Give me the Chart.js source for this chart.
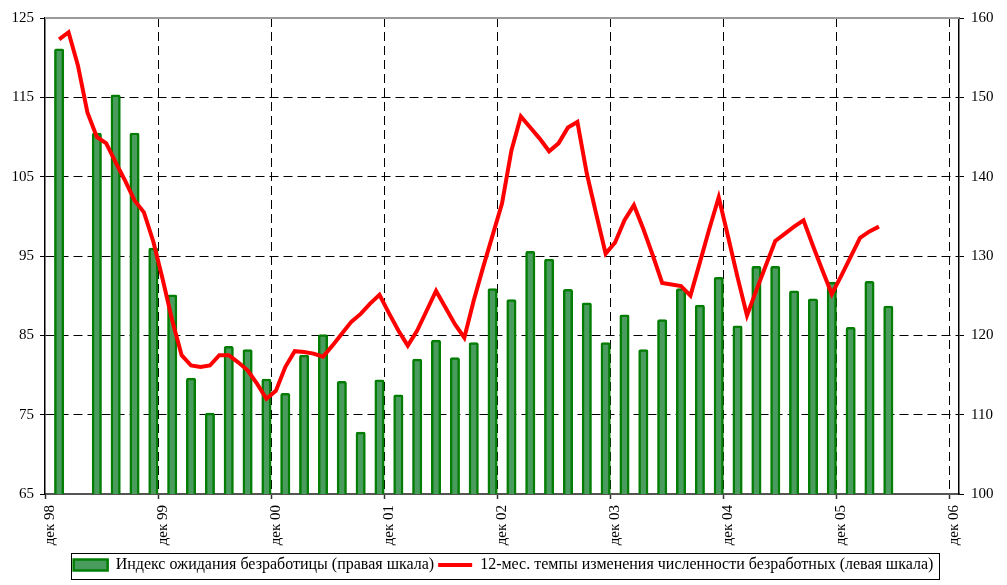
<!DOCTYPE html>
<html><head><meta charset="utf-8">
<script src="https://cdn.jsdelivr.net/npm/chart.js@4.4.1/dist/chart.umd.min.js"></script>
<style>html,body{margin:0;padding:0;background:#fff}#wrap{width:1007px;height:585px;position:relative}</style>
</head><body><div id="wrap"><canvas id="c"></canvas></div>
<script>
const categories = [
 'дек 98',
 'янв 99','фев 99','мар 99','апр 99','май 99','июн 99','июл 99','авг 99','сен 99','окт 99','ноя 99','дек 99',
 'янв 00','фев 00','мар 00','апр 00','май 00','июн 00','июл 00','авг 00','сен 00','окт 00','ноя 00','дек 00',
 'янв 01','фев 01','мар 01','апр 01','май 01','июн 01','июл 01','авг 01','сен 01','окт 01','ноя 01','дек 01',
 'янв 02','фев 02','мар 02','апр 02','май 02','июн 02','июл 02','авг 02','сен 02','окт 02','ноя 02','дек 02',
 'янв 03','фев 03','мар 03','апр 03','май 03','июн 03','июл 03','авг 03','сен 03','окт 03','ноя 03','дек 03',
 'янв 04','фев 04','мар 04','апр 04','май 04','июн 04','июл 04','авг 04','сен 04','окт 04','ноя 04','дек 04',
 'янв 05','фев 05','мар 05','апр 05','май 05','июн 05','июл 05','авг 05','сен 05','окт 05','ноя 05','дек 05',
 'янв 06','фев 06','мар 06','апр 06','май 06','июн 06','июл 06','авг 06','сен 06','окт 06','ноя 06','дек 06'
];
// Индекс ожидания безработицы (правая шкала)
const expectationIndex = [
 null,
 156.1,null,null,null,145.5,null,150.3,null,145.5,null,131.0,null,
 125.1,null,114.6,null,110.2,null,118.6,null,118.2,null,114.5,null,
 112.7,null,117.5,null,120.1,null,114.2,null,107.8,null,114.4,null,
 112.5,null,117.0,null,119.4,null,117.2,null,119.1,null,125.9,null,
 124.5,null,130.6,null,129.6,null,125.8,null,124.1,null,119.1,null,
 122.6,null,118.2,null,122.0,null,125.9,null,123.8,null,127.3,null,
 121.2,null,128.7,null,128.7,null,125.6,null,124.6,null,126.7,null,
 121.0,null,126.8,null,123.7,null,null,null,null,null,null,null
];
// 12-мес. темпы изменения численности безработных (левая шкала)
const unemployedGrowth = [
 null,
 122.3,123.2,119.0,113.1,110.0,109.2,106.8,104.5,102.0,100.5,96.8,92.0,
 86.9,82.5,81.2,81.0,81.2,82.5,82.5,81.6,80.6,78.9,77.0,78.0,
 81.0,83.0,82.9,82.7,82.3,83.7,85.2,86.7,87.7,89.0,90.1,87.8,
 85.6,83.7,85.6,88.1,90.6,88.5,86.4,84.7,89.4,93.6,97.6,101.6,
 108.3,112.6,111.2,109.8,108.2,109.2,111.2,111.9,105.4,100.3,95.3,96.7,
 99.5,101.4,98.4,95.1,91.6,91.4,91.2,90.0,94.2,98.4,102.4,97.4,
 92.3,87.5,90.7,93.8,96.9,97.8,98.7,99.5,96.3,93.2,90.2,92.5,
 94.9,97.3,98.1,98.7,null,null,null,null,null,null,null,null
];
const seriesNames = [
 'Индекс ожидания безработицы (правая шкала)',
 '12-мес. темпы изменения численности безработных (левая шкала)'
];
const leftAxis = {min: 65, max: 125, step: 10};
const rightAxis = {min: 100, max: 160, step: 10};
const labelEvery = 12;

const FONT = "'Liberation Serif', 'Times New Roman', serif";
const BAR_FILL = '#4a9c5e';
const BAR_EDGE = '#037d03';
const LINE_COLOR = '#ff0000';

const framePlugin = {
  id: 'frame',
  afterDraw(chart) {
    const {ctx, chartArea: a} = chart;
    ctx.save();
    ctx.strokeStyle = '#9a9a9a';
    ctx.lineWidth = 2;
    ctx.beginPath();
    ctx.moveTo(a.left, a.top);
    ctx.lineTo(a.right, a.top);
    ctx.stroke();
    const lg = chart.legend;
    const hb = lg.legendHitBoxes;
    if (hb && hb.length) {
      const x0 = Math.min(...hb.map(h => h.left)) - 3;
      const x1 = Math.max(...hb.map(h => h.left + h.width)) + 5;
      const y0 = Math.min(...hb.map(h => h.top)) - 4;
      const y1 = Math.max(...hb.map(h => h.top + h.height)) + 6;
      ctx.strokeStyle = '#000';
      ctx.lineWidth = 1;
      ctx.strokeRect(Math.round(x0) + 0.5, Math.round(y0) + 0.5, Math.round(x1 - x0), Math.round(y1 - y0));
    }
    ctx.restore();
  }
};

Chart.defaults.font.family = FONT;
Chart.defaults.color = '#000';

new Chart(document.getElementById('c'), {
  data: {
    labels: categories,
    datasets: [
      {
        type: 'bar',
        label: seriesNames[0],
        data: expectationIndex,
        yAxisID: 'y1',
        backgroundColor: BAR_FILL,
        borderColor: BAR_EDGE,
        borderWidth: 2.5,
        borderSkipped: 'start',
        borderRadius: 2,
        barPercentage: 1.0,
        categoryPercentage: 1.0,
        order: 1
      },
      {
        type: 'line',
        label: seriesNames[1],
        data: unemployedGrowth,
        yAxisID: 'y',
        borderColor: LINE_COLOR,
        backgroundColor: LINE_COLOR,
        borderWidth: 4,
        pointRadius: 0,
        tension: 0,
        spanGaps: false,
        order: 0
      }
    ]
  },
  options: {
    responsive: true,
    maintainAspectRatio: false,
    animation: false,
    layout: {padding: {top: 18, right: 0, bottom: 2, left: 0}},
    plugins: {
      tooltip: {enabled: false},
      legend: {
        position: 'bottom',
        labels: {
          usePointStyle: true,
          pointStyleWidth: 34,
          boxHeight: 11,
          padding: 4,
          color: '#000',
          font: {family: FONT, size: 16},
          generateLabels(chart) {
            const items = Chart.defaults.plugins.legend.labels.generateLabels(chart);
            items.sort((a, b) => a.datasetIndex - b.datasetIndex);
            items.forEach((it) => {
              if (it.datasetIndex === 0) {
                it.pointStyle = 'rect';
                it.fillStyle = BAR_FILL;
                it.strokeStyle = BAR_EDGE;
                it.lineWidth = 2.5;
              } else {
                it.pointStyle = 'line';
                it.strokeStyle = LINE_COLOR;
                it.lineWidth = 4;
              }
            });
            return items;
          }
        }
      }
    },
    scales: {
      x: {
        type: 'category',
        offset: true,
        afterFit(scale) { scale.height = 59; },
        grid: {
          offset: true,
          drawOnChartArea: true,
          tickLength: 5,
          color: (c) => (c.index !== undefined && c.index > 0 && c.index % labelEvery === 0) ? '#000' : 'rgba(0,0,0,0)',
          tickColor: (c) => (c.index !== undefined && c.index % labelEvery === 0) ? '#333' : 'rgba(0,0,0,0)',
          tickWidth: 1.5
        },
        border: {display: true, color: '#555', width: 2, dash: [9, 5]},
        ticks: {
          autoSkip: false,
          minRotation: 90,
          maxRotation: 90,
          padding: 6,
          font: {family: FONT, size: 15},
          color: '#000',
          callback: (v, i) => (i % labelEvery === 0 ? categories[i] : '')
        }
      },
      y: {
        type: 'linear',
        position: 'left',
        min: leftAxis.min,
        max: leftAxis.max,
        afterFit(scale) { scale.width = 45; },
        ticks: {stepSize: leftAxis.step, padding: 6, font: {family: FONT, size: 15}, color: '#000'},
        grid: {
          tickLength: 5,
          color: (c) => (c.tick && (c.tick.value === leftAxis.min || c.tick.value === leftAxis.max)) ? 'rgba(0,0,0,0)' : '#000',
          tickColor: '#000',
          tickBorderDash: []
        },
        border: {display: true, color: '#000', width: 1.5, dash: [9, 5]}
      },
      y1: {
        type: 'linear',
        position: 'right',
        min: rightAxis.min,
        max: rightAxis.max,
        afterFit(scale) { scale.width = 48; },
        ticks: {stepSize: rightAxis.step, padding: 7, font: {family: FONT, size: 15}, color: '#000'},
        grid: {drawOnChartArea: false, tickLength: 5, tickColor: '#000', tickBorderDash: []},
        border: {display: true, color: '#000', width: 1.5}
      }
    }
  },
  plugins: [framePlugin]
});
</script>
</body></html>
